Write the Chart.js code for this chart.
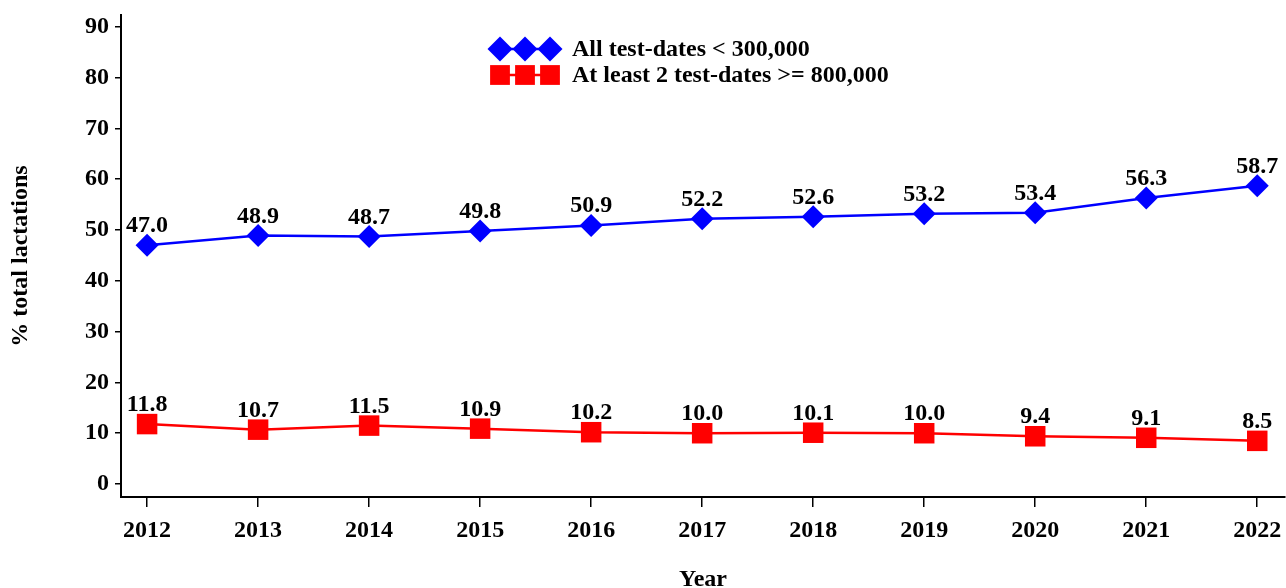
<!DOCTYPE html>
<html>
<head>
<meta charset="utf-8">
<script src="https://cdn.jsdelivr.net/npm/chart.js@4"></script>
<style>
  html, body { margin: 0; padding: 0; background: #fff; }
  #wrap { width: 1286px; height: 588px; }
</style>
</head>
<body>
<div id="wrap"><canvas id="lact-chart" width="1286" height="588"></canvas></div>
<script>
// Share of lactations by test-date count thresholds, 2012-2022.
const years = [2012, 2013, 2014, 2015, 2016, 2017, 2018, 2019, 2020, 2021, 2022];
const under300k = [47.0, 48.9, 48.7, 49.8, 50.9, 52.2, 52.6, 53.2, 53.4, 56.3, 58.7];
const over800k = [11.8, 10.7, 11.5, 10.9, 10.2, 10.0, 10.1, 10.0, 9.4, 9.1, 8.5];
const yTicks = [0, 10, 20, 30, 40, 50, 60, 70, 80, 90];
const seriesNames = ['All test-dates < 300,000', 'At least 2 test-dates >= 800,000'];

const FONT = '"Liberation Serif", "Times New Roman", serif';
const BLUE = '#0000ff';
const RED = '#ff0000';

function toPoints(vals) {
  return years.map((yr, i) => ({ x: yr, y: vals[i] }));
}

// value labels above every marker
const pointLabels = {
  id: 'pointLabels',
  afterDatasetsDraw(chart) {
    const ctx = chart.ctx;
    ctx.save();
    ctx.font = 'bold 24px ' + FONT;
    ctx.fillStyle = '#000';
    ctx.textAlign = 'center';
    ctx.textBaseline = 'alphabetic';
    chart.data.datasets.forEach((ds, di) => {
      chart.getDatasetMeta(di).data.forEach((pt, i) => {
        ctx.fillText(ds.data[i].y.toFixed(1), pt.x, pt.y - 13);
      });
    });
    ctx.restore();
  }
};

// legend with three linked markers per row
const markerLegend = {
  id: 'markerLegend',
  afterDraw(chart) {
    const ctx = chart.ctx;
    const rows = [
      { y: 49, ds: chart.data.datasets[0], radius: 12.5 },
      { y: 75, ds: chart.data.datasets[1], radius: 14 },
    ];
    const xs = [500, 525, 550];
    ctx.save();
    rows.forEach(r => {
      ctx.strokeStyle = r.ds.borderColor;
      ctx.lineWidth = 2.5;
      ctx.beginPath();
      ctx.moveTo(xs[0], r.y);
      ctx.lineTo(xs[2], r.y);
      ctx.stroke();
      ctx.fillStyle = r.ds.backgroundColor;
      xs.forEach(x => {
        Chart.helpers.drawPoint(ctx, { pointStyle: r.ds.pointStyle, radius: r.radius, rotation: 0, borderWidth: 0 }, x, r.y);
      });
      ctx.fillStyle = '#000';
      ctx.font = 'bold 24px ' + FONT;
      ctx.textAlign = 'left';
      ctx.textBaseline = 'middle';
      ctx.fillText(r.ds.label, 572, r.y + 1);
    });
    ctx.restore();
  }
};

new Chart(document.getElementById('lact-chart'), {
  type: 'line',
  data: {
    datasets: [
      {
        label: seriesNames[0],
        data: toPoints(under300k),
        borderColor: BLUE,
        backgroundColor: BLUE,
        borderWidth: 2.5,
        pointStyle: 'rectRot',
        pointRadius: 11.5,
        pointBorderWidth: 0,
        tension: 0,
      },
      {
        label: seriesNames[1],
        data: toPoints(over800k),
        borderColor: RED,
        backgroundColor: RED,
        borderWidth: 2.5,
        pointStyle: 'rect',
        pointRadius: 14.5,
        pointBorderWidth: 0,
        tension: 0,
      },
    ],
  },
  options: {
    responsive: false,
    animation: false,
    layout: { autoPadding: false, padding: { top: 15, right: 1, left: 0, bottom: 0 } },
    plugins: {
      legend: { display: false },
      tooltip: { enabled: false },
    },
    scales: {
      x: {
        type: 'linear',
        min: 2011.765,
        max: 2022.25,
        afterBuildTicks: s => { s.ticks = years.map(v => ({ value: v })); },
        afterFit: s => { s.height = 91; s.paddingLeft = 0; s.paddingRight = 0; },
        grid: { display: true, drawOnChartArea: false, drawTicks: true, tickLength: 10, color: '#000', lineWidth: 1.5 },
        border: { display: true, color: '#000', width: 2 },
        ticks: {
          color: '#000',
          padding: 9,
          maxRotation: 0,
          autoSkip: false,
          font: { family: FONT, size: 24, weight: 'bold' },
          callback: v => String(v),
        },
        title: {
          display: true,
          text: 'Year',
          color: '#000',
          padding: { top: 0, bottom: -4 },
          font: { family: FONT, size: 24, weight: 'bold', lineHeight: 1 },
        },
      },
      y: {
        min: -2.55,
        max: 92.3,
        afterBuildTicks: s => { s.ticks = yTicks.map(v => ({ value: v })); },
        afterFit: s => { s.width = 121; s.paddingTop = 0; s.paddingBottom = 0; },
        grid: { display: true, drawOnChartArea: false, drawTicks: true, tickLength: 6, color: '#000', lineWidth: 1.5 },
        border: { display: true, color: '#000', width: 2 },
        ticks: {
          color: '#000',
          padding: 6,
          font: { family: FONT, size: 24, weight: 'bold' },
          callback: v => String(v),
        },
        title: {
          display: true,
          text: '% total lactations',
          color: '#000',
          padding: { top: 6, bottom: 0 },
          font: { family: FONT, size: 24, weight: 'bold' },
        },
      },
    },
  },
  plugins: [pointLabels, markerLegend],
});
</script>
</body>
</html>
